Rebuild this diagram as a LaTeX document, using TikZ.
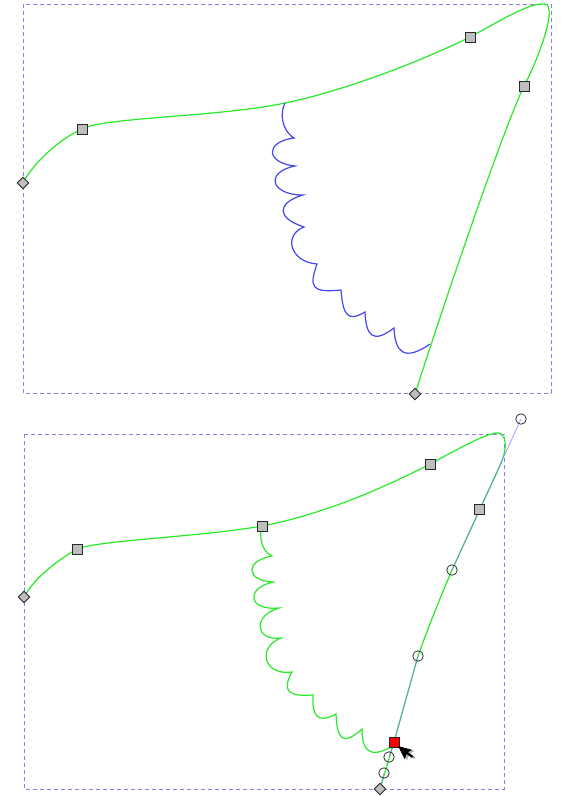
\documentclass[tikz,border=0pt]{standalone}
\usetikzlibrary{shapes.geometric}
\definecolor{boxblue}{RGB}{128,128,240}
\definecolor{curvegreen}{RGB}{40,235,40}
\definecolor{waveblue}{RGB}{70,70,235}
\definecolor{handleblue}{RGB}{130,130,255}
\definecolor{knotgray}{RGB}{190,190,190}
\definecolor{knotedge}{RGB}{40,40,40}
\tikzset{
  bbox/.style={draw=boxblue, line width=0.9pt, dash pattern=on 4pt off 3pt},
  greenline/.style={draw=curvegreen, line width=1.2pt},
  blueline/.style={draw=waveblue, line width=1.2pt},
  handleline/.style={draw=handleblue, line width=0.9pt, opacity=0.7},
  sqknot/.style={rectangle, draw=knotedge, fill=knotgray, line width=0.9pt, minimum size=10pt, inner sep=0pt},
  selknot/.style={sqknot, fill=red},
  dmknot/.style={diamond, draw=knotedge, fill=knotgray, line width=0.9pt, minimum width=12pt, minimum height=12pt, inner sep=0pt},
  hcircle/.style={circle, draw=black!80, line width=0.8pt, minimum size=10.5pt, inner sep=0pt},
}
\begin{document}
\begin{tikzpicture}[x=1pt,y=-1pt]
\useasboundingbox[fill=white] (0,0) rectangle (562,796);

% ---------- top panel ----------
\draw[bbox] (23,4) rectangle (551,393);

\coordinate (a0) at (23,183);
\coordinate (a1) at (82,129);
\coordinate (w0) at (285,103);
\coordinate (a2) at (470,37);
\coordinate (atip) at (545,4);
\coordinate (a3) at (524,86);
\coordinate (a4) at (415,394);

\draw[greenline] (a0) .. controls (35,160) and (62,138) .. (a1)
  .. controls (105,117) and (220,117) .. (w0)
  .. controls (340,92) and (420,62) .. (a2)
  .. controls (500,21) and (530,2) .. (atip)
  .. controls (558,6) and (538,60) .. (a3)
  .. controls (503,130) and (445,300) .. (a4);

\draw[blueline] (w0)
  .. controls (280,112) and (281,130) .. (294,138)
  .. controls (264,142) and (266,163) .. (295,166)
  .. controls (265,172) and (270,195) .. (303,195)
  .. controls (276.3,203) and (276.3,218) .. (304,227)
  .. controls (283,235) and (290,262) .. (317,264)
  .. controls (309,287) and (311,293) .. (341,290)
  .. controls (343,316) and (348,322) .. (365,312)
  .. controls (366,336) and (373,344) .. (394,328)
  .. controls (395,352) and (404,362) .. (430,344);

\node[dmknot] (ka0) at (a0) {};
\node[sqknot] (ka1) at (a1) {};
\node[sqknot] (ka2) at (a2) {};
\node[sqknot] (ka3) at (a3) {};
\node[dmknot] (ka4) at (a4) {};

% ---------- bottom panel ----------
\draw[bbox] (24,434) rectangle (504,789);

\coordinate (b0) at (24,597);
\coordinate (b1) at (77,549);
\coordinate (v0) at (262,526);
\coordinate (b2) at (430,464);
\coordinate (btip) at (499,433);
\coordinate (bside) at (498,470);
\coordinate (b3) at (479,509);
\coordinate (h1) at (521,419);
\coordinate (h2) at (452,570);
\coordinate (h3) at (418,656);
\coordinate (sel) at (394,742);
\coordinate (h4) at (389,757);
\coordinate (h5) at (384,773);
\coordinate (b4) at (380,789);

\draw[greenline] (b0) .. controls (35,577) and (58,560) .. (b1)
  .. controls (100,540) and (200,537) .. (v0)
  .. controls (320,515) and (380,490) .. (b2)
  .. controls (462,447) and (488,432) .. (btip)
  .. controls (508,436) and (507,452) .. (bside)
  -- (h2)
  .. controls (440,598) and (428,628) .. (h3)
  -- (sel) -- (b4);

\draw[greenline] (v0)
  .. controls (259,536) and (261,551) .. (272,556)
  .. controls (244,561) and (246,581) .. (273,582)
  .. controls (244,589) and (249,611) .. (279,608)
  .. controls (252,616) and (255,641) .. (281,638)
  .. controls (257,647) and (263,676) .. (292,672)
  .. controls (282,690) and (287,697) .. (313,695)
  .. controls (312,716) and (317,724) .. (336,714)
  .. controls (337,738) and (342,747) .. (362,729)
  .. controls (362,750) and (369,759) .. (391,747);

\draw[handleline] (h1) -- (h2);
\draw[handleline] (h3) -- (sel) -- (h4);
\draw[handleline] (b4) -- (h5);

\node[dmknot] (kb0) at (b0) {};
\node[sqknot] (kb1) at (b1) {};
\node[sqknot] (kv0) at (v0) {};
\node[sqknot] (kb2) at (b2) {};
\node[sqknot] (kb3) at (b3) {};
\node[hcircle] (kh1) at (h1) {};
\node[hcircle] (kh2) at (h2) {};
\node[hcircle] (kh3) at (h3) {};
\node[hcircle] (kh4) at (h4) {};
\node[hcircle] (kh5) at (h5) {};
\node[selknot] (ksel) at (sel) {};
\node[dmknot] (kb4) at (b4) {};

% mouse pointer
\begin{scope}[shift={(398,746)}, rotate=27]
  \fill[black, opacity=0.3] (1.5,2) -- (1.5,17) -- (5.5,13) -- (8.5,19) -- (10.5,18) -- (7.5,12) -- (12.5,12) -- cycle;
  \fill[black] (0,0) -- (0,15) -- (4,11) -- (7,17) -- (9,16) -- (6,10) -- (11,10) -- cycle;
\end{scope}
\end{tikzpicture}
\end{document}
